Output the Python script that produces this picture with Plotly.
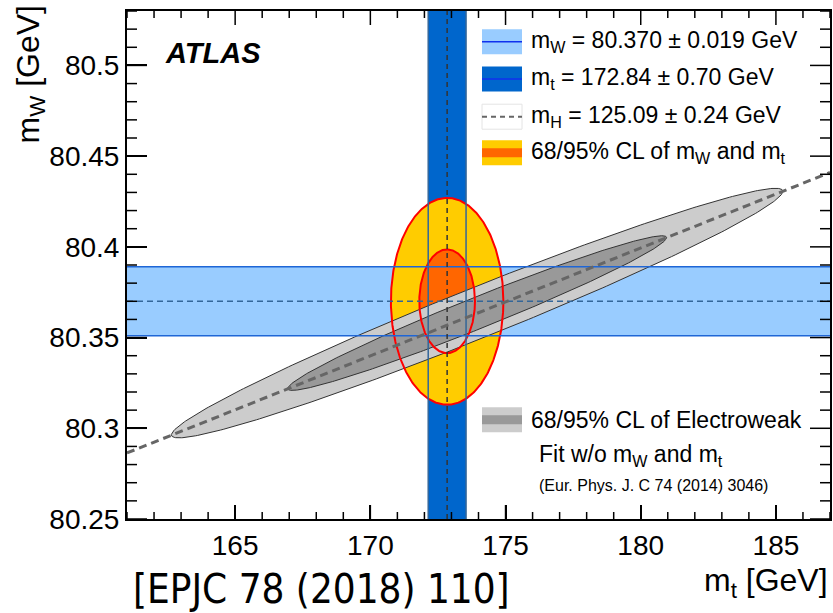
import numpy as np
import plotly.graph_objects as go

# Direct measurements (GeV)
mw_value, mw_error = 80.370, 0.019
mt_value, mt_error = 172.84, 0.70
mh_value, mh_error = 125.09, 0.24

# 68/95% CL contours of the measured mW and mt: semi-axes (GeV)
cl_half_mt = [2.08, 1.03]       # [95%, 68%]
cl_half_mw = [0.057, 0.0286]

# Electroweak fit without mW and mt (Gaussian approximation)
ew_center_mt, ew_center_mw = 173.95, 80.3635
ew_sigma_mt, ew_sigma_mw = 4.62, 0.0281
ew_rho = 0.976
ew_chi2 = [5.99, 2.30]          # [95%, 68%]

# mH = 125.09 GeV line in the (mt, mW) plane
mh_line_mt = [161.0, 187.0]
mh_line_mw = [80.2864, 80.4410]

# Axes
x_range = [161, 187]
y_range = [80.25, 80.53]
x_tickvals = [165, 170, 175, 180, 185]
x_ticktext = ["165", "170", "175", "180", "185"]
y_tickvals = [80.25, 80.30, 80.35, 80.40, 80.45, 80.50]
y_ticktext = ["80.25", "80.3", "80.35", "80.4", "80.45", "80.5"]
x_minor_step, y_minor_step = 1.0, 0.01

W, H = 833, 613
ML, MR, MT, MB = 127, 3, 11, 94
PW, PH = W - ML - MR, H - MT - MB

FONT = "Liberation Sans, Arial, Helvetica, sans-serif"


def px(x):
    return (x - ML) / PW


def py(y):
    return (H - MB - y) / PH


t = np.linspace(0, 2 * np.pi, 400)


def meas_ellipse(i):
    return mt_value + cl_half_mt[i] * np.cos(t), mw_value + cl_half_mw[i] * np.sin(t)


def ew_ellipse(i):
    k = np.sqrt(ew_chi2[i])
    u, v = np.cos(t), np.sin(t)
    x = ew_center_mt + k * ew_sigma_mt * u
    y = ew_center_mw + k * ew_sigma_mw * (ew_rho * u + np.sqrt(1 - ew_rho ** 2) * v)
    return x, y


fig = go.Figure()

# measured mW-mt contours (fills)
for i, col in enumerate(["#ffcc00", "#ff6600"]):
    x, y = meas_ellipse(i)
    fig.add_trace(go.Scatter(x=x, y=y, mode="lines", fill="toself", fillcolor=col,
                             line=dict(width=0), hoverinfo="skip", showlegend=False))

# electroweak fit contours
for i, col in enumerate(["#cccccc", "#999999"]):
    x, y = ew_ellipse(i)
    fig.add_trace(go.Scatter(x=x, y=y, mode="lines", fill="toself", fillcolor=col,
                             line=dict(width=1, color="#333333"), hoverinfo="skip",
                             showlegend=False))

# red outlines of measured contours
for i in range(2):
    x, y = meas_ellipse(i)
    fig.add_trace(go.Scatter(x=x, y=y, mode="lines", line=dict(width=2, color="#ff0000"),
                             hoverinfo="skip", showlegend=False))

shapes = []
# bands
shapes.append(dict(type="rect", xref="paper", yref="y", x0=0, x1=1,
                   y0=mw_value - mw_error, y1=mw_value + mw_error,
                   fillcolor="#99ccff", line=dict(width=0), layer="below"))
shapes.append(dict(type="rect", xref="x", yref="paper", x0=mt_value - mt_error,
                   x1=mt_value + mt_error, y0=0, y1=1,
                   fillcolor="#0066cc", line=dict(width=0), layer="below"))
# band edges and central values
for s in (-1, 1):
    shapes.append(dict(type="line", xref="paper", yref="y", x0=0, x1=1,
                       y0=mw_value + s * mw_error, y1=mw_value + s * mw_error,
                       line=dict(color="#1f66d6", width=1.5), layer="above"))
    shapes.append(dict(type="line", xref="x", yref="paper", y0=0, y1=1,
                       x0=mt_value + s * mt_error, x1=mt_value + s * mt_error,
                       line=dict(color="#336699", width=1.5), layer="above"))
shapes.append(dict(type="line", xref="paper", yref="y", x0=0, x1=1,
                   y0=mw_value, y1=mw_value,
                   line=dict(color="#336699", width=1.5, dash="6px,4px"), layer="above"))
shapes.append(dict(type="line", xref="x", yref="paper", y0=0, y1=1,
                   x0=mt_value, x1=mt_value,
                   line=dict(color="#333333", width=1.5, dash="5px,4px"), layer="above"))
# mH line
shapes.append(dict(type="line", xref="x", yref="y", x0=mh_line_mt[0], x1=mh_line_mt[1],
                   y0=mh_line_mw[0], y1=mh_line_mw[1],
                   line=dict(color="#666666", width=3, dash="8px,5px"), layer="above"))

# ROOT-style tick marks on all four sides of the frame
TICK = dict(color="black", width=1.5)
x_minor = [v for v in np.arange(np.ceil(x_range[0]), x_range[1] + 1e-9, x_minor_step)
           if min(abs(v - m) for m in x_tickvals) > 1e-6]
y_minor = [v for v in np.round(np.arange(y_range[0], y_range[1] + 1e-9, y_minor_step), 4)
           if min(abs(v - m) for m in y_tickvals) > 1e-6]
for vals, length in ((x_tickvals, 14), (x_minor, 7)):
    for v in vals:
        for a, b in ((0, length / PH), (1 - length / PH, 1)):
            shapes.append(dict(type="line", xref="x", yref="paper", x0=v, x1=v, y0=a, y1=b,
                               line=TICK, layer="above"))
for vals, length in ((y_tickvals, 20), (y_minor, 10)):
    for v in vals:
        for a, b in ((0, length / PW), (1 - length / PW, 1)):
            shapes.append(dict(type="line", xref="paper", yref="y", x0=a, x1=b, y0=v, y1=v,
                               line=TICK, layer="above"))

# legend symbols
bx0, bx1, bh = 482, 522, 25
rows = [41.7, 79.0, 116.7, 152.7]


def box(yc, fill, line=None):
    shapes.append(dict(type="rect", xref="paper", yref="paper", x0=px(bx0), x1=px(bx1),
                       y0=py(yc + bh / 2), y1=py(yc - bh / 2), fillcolor=fill,
                       line=line or dict(width=0), layer="above"))


def hline(yc, color, width, dash="solid"):
    shapes.append(dict(type="line", xref="paper", yref="paper", x0=px(bx0), x1=px(bx1),
                       y0=py(yc), y1=py(yc), line=dict(color=color, width=width, dash=dash),
                       layer="above"))


box(rows[0], "#99ccff")
hline(rows[0], "#1030ee", 1.5)
box(rows[1], "#0066cc")
hline(rows[1], "#1030ee", 1.5)
box(rows[2], "#ffffff", dict(color="#e4e4e4", width=1))
hline(rows[2], "#666666", 2, "5px,4px")
box(rows[3], "#ffcc00")
shapes.append(dict(type="rect", xref="paper", yref="paper", x0=px(bx0), x1=px(bx1),
                   y0=py(rows[3] + 4.5), y1=py(rows[3] - 4.5), fillcolor="#ff6600",
                   line=dict(width=0), layer="above"))
ew_row = 419.8
box(ew_row, "#cccccc")
shapes.append(dict(type="rect", xref="paper", yref="paper", x0=px(bx0), x1=px(bx1),
                   y0=py(ew_row + 4.5), y1=py(ew_row - 4.5), fillcolor="#999999",
                   line=dict(width=0), layer="above"))

annotations = []


def text(x, y, s, size=23, xanchor="left", yanchor="middle", family=FONT, angle=0):
    annotations.append(dict(xref="paper", yref="paper", x=px(x), y=py(y), text=s,
                            showarrow=False, xanchor=xanchor, yanchor=yanchor,
                            textangle=angle,
                            font=dict(family=family, size=size, color="black")))


text(529, rows[0], f"m<sub>W</sub> = {mw_value:.3f} ± {mw_error:.3f} GeV")
text(529, rows[1], f"m<sub>t</sub> = {mt_value:.2f} ± {mt_error:.2f} GeV")
text(529, rows[2], f"m<sub>H</sub> = {mh_value:.2f} ± {mh_error:.2f} GeV")
text(529, rows[3], "68/95% CL of m<sub>W</sub> and m<sub>t</sub>")
text(529, ew_row, "68/95% CL of Electroweak")
text(537, 455, "Fit w/o m<sub>W</sub> and m<sub>t</sub>")
text(537, 485, "(Eur. Phys. J. C 74 (2014) 3046)", size=16)
text(163, 53, "<b><i>ATLAS</i></b>", size=29)
text(830, 582, "m<sub>t</sub> [GeV]", size=32, xanchor="right")
text(30, 3, "m<sub>W</sub> [GeV]", size=32, xanchor="center", yanchor="top", angle=-90)
text(131, 589, "[EPJC 78 (2018) 110]", size=40,
     family="DejaVu Sans Condensed, Liberation Sans Narrow, sans-serif")


def x_axis():
    return dict(range=x_range, tickmode="array", tickvals=x_tickvals, ticktext=x_ticktext,
                ticks="inside", ticklen=14, tickcolor="black", tickwidth=1.5,
                showline=True, linecolor="black", linewidth=2, mirror=True,
                showgrid=False, zeroline=False, automargin=False,
                tickfont=dict(family=FONT, size=28, color="black"))


def y_axis():
    return dict(range=y_range, tickmode="array", tickvals=y_tickvals, ticktext=y_ticktext,
                ticks="inside", ticklen=20, tickcolor="black", tickwidth=1.5,
                showline=True, linecolor="black", linewidth=2, mirror=True,
                showgrid=False, zeroline=False, automargin=False,
                tickfont=dict(family=FONT, size=28, color="black"))


fig.update_layout(
    xaxis=x_axis(), yaxis=y_axis(), shapes=shapes, annotations=annotations,
    showlegend=False, width=W, height=H, margin=dict(l=ML, r=MR, t=MT, b=MB),
    plot_bgcolor="white", paper_bgcolor="white",
)

fig.write_html("out.html")
